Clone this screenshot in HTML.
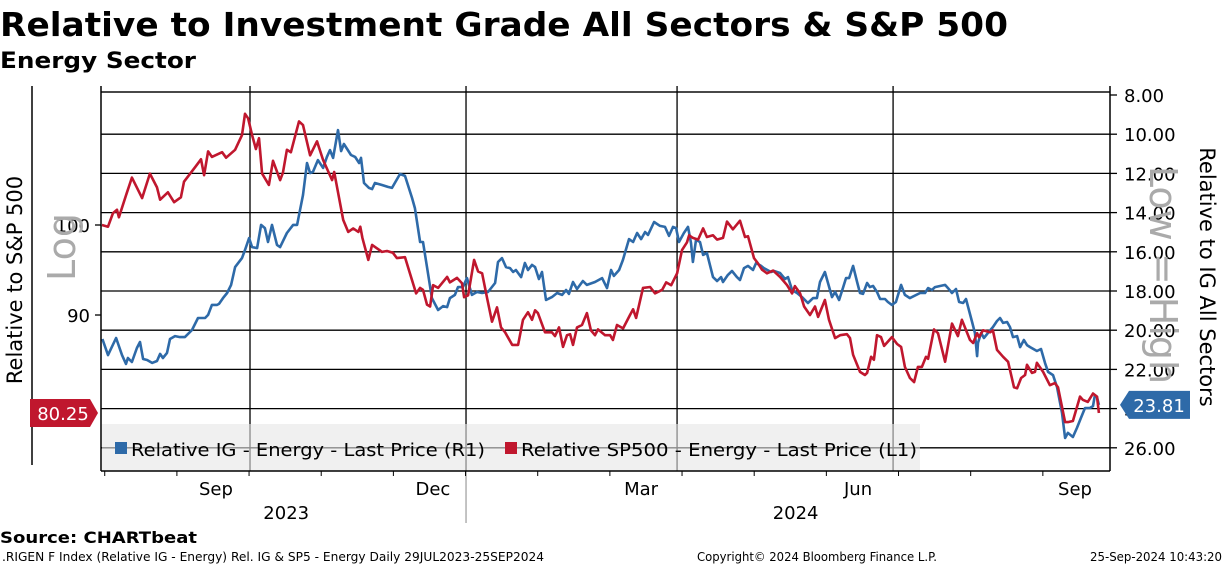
<!DOCTYPE html>
<html><head><meta charset="utf-8"><style>
body{margin:0;background:#fff;}
svg{display:block;font-family:"DejaVu Sans","Liberation Sans",sans-serif;}
</style></head><body>
<svg id="chart" width="1224" height="566" viewBox="0 0 1224 566">
<text x="0" y="36" font-size="33" font-weight="bold" textLength="1008" lengthAdjust="spacingAndGlyphs">Relative to Investment Grade All Sectors &amp; S&amp;P 500</text>
<text x="0" y="68" font-size="22" font-weight="bold" textLength="196" lengthAdjust="spacingAndGlyphs">Energy Sector</text>
<g id="grid"></g>
<g id="series"></g>
<g id="axes"></g>
<text x="0" y="543" font-size="16" font-weight="bold" textLength="197" lengthAdjust="spacingAndGlyphs">Source: CHARTbeat</text>
<text x="2" y="561" font-size="12" textLength="542" lengthAdjust="spacingAndGlyphs">.RIGEN F Index (Relative IG - Energy) Rel. IG &amp; SP5 - Energy  Daily 29JUL2023-25SEP2024</text>
<text x="697" y="561" font-size="12" textLength="240" lengthAdjust="spacingAndGlyphs">Copyright© 2024 Bloomberg Finance L.P.</text>
<text x="1090" y="561" font-size="12" textLength="132" lengthAdjust="spacingAndGlyphs">25-Sep-2024 10:43:20</text>
</svg>
<script>
// x in day index since 29 Jul 2023
const blueDays=[1,3.4,6.8,9.3,11,11.8,13.5,15.6,16.9,18.2,19.9,22,24.1,25.4,26.6,28.3,29.6,31.7,33.8,35.9,38.9,41.4,44.4,45.7,47.3,49.5,50.3,52,53.7,55.4,57.1,60,61.3,63,64.3,66.4,68.1,69.7,71,72.7,74.8,76.1,79,81.6,83.3,85.8,87.5,88.8,90,92.1,94.3,95.9,97.2,98.5,100.6,101.9,103.1,106.1,107.8,109.5,110.3,111.6,113.7,115,116.2,119.2,121.7,123.4,126.8,128.9,131.9,133.1,135.3,136.5,138.2,140.3,142.9,145,146.7,147.9,150,151.3,153.4,155.1,157.2,159.3,161.5,164,167,168.2,169.9,171.6,173.3,174.6,175.8,178,179.6,180.9,182.6,183.9,185.5,186.8,188.5,191,193.2,195.3,197,198.2,199.9,201.6,204.1,205.8,209.2,212.2,214.3,216,217.2,219.4,221,223.6,225.3,227,228.7,230.4,231.6,234.2,236.7,238.8,240.5,242.2,243.5,244.7,246.8,248.5,249.8,250.6,251.9,253.6,254.9,256.5,259.1,260.8,262.5,263.3,265.4,267.1,269.2,270.5,272.2,273.9,276,277.3,279.4,280.6,283.6,284.9,287.4,289.5,290.8,292.5,294.6,296.7,299.2,301.4,303,304.3,306.4,307.7,309.4,310.7,312.4,314,315.3,316.6,318.3,320,321.2,322.5,324.2,325.4,326.7,328.4,329.7,331.8,333,334.7,336.4,338.6,340.2,342.3,346.6,348.7,350,351.6,352.9,357.2,358.4,360.1,361.8,363.1,364.8,366,368.6,369.8,370.7,371.1,372.4,373.6,375.3,377.4,379.1,380.4,381.7,383.4,384.6,385.9,387.6,388.9,390.5,391.8,393.1,396,397.7,399.4,400.7,402.8,404.5,406.6,407.9,409.1,411.2,412.9,414.6,416.3,418.4,419.7,420.5,421.4,422.2];
const blueValues=[20.45,21.27,20.40,21.27,21.72,21.42,21.62,20.91,20.60,21.47,21.52,21.67,21.57,21.21,21.42,21.16,20.45,20.30,20.35,20.35,19.99,19.38,19.38,19.22,18.71,18.71,18.66,18.36,18.10,17.69,16.78,16.32,15.91,15.30,15.76,15.81,14.63,14.79,15.50,14.63,15.65,15.76,15.04,14.63,14.63,13.10,11.47,11.98,11.93,11.32,11.72,11.16,10.81,11.21,9.79,10.86,10.50,11.06,11.16,11.47,11.21,12.49,12.74,12.80,12.49,12.59,12.69,12.74,12.03,12.13,13.26,13.77,15.50,15.50,16.78,18.36,18.97,18.77,18.82,18.36,18.20,17.80,17.80,17.34,18.20,18.05,18.10,18.05,17.59,16.52,16.32,16.78,16.83,17.03,16.93,17.29,16.57,16.93,16.67,16.78,17.39,17.03,18.46,18.31,18.10,18.20,17.95,18.15,17.54,17.90,17.49,17.69,17.54,17.34,17.85,16.93,17.23,16.93,16.42,15.35,15.50,15.04,15.35,14.99,15.14,14.48,14.68,14.73,15.19,14.73,14.79,15.50,15.04,14.73,15.55,16.52,15.40,15.50,16.16,16.06,17.29,17.49,17.29,17.54,17.18,16.98,17.29,17.44,16.83,16.72,16.93,16.57,16.72,16.83,17.03,16.98,17.08,17.39,17.29,17.95,18.10,18.31,18.61,18.36,18.36,17.54,17.03,17.59,18.31,18.05,18.46,17.85,17.34,17.34,16.72,17.54,18.10,18.15,17.59,17.80,17.74,18.05,18.41,18.41,18.56,18.71,18.56,17.69,18.20,18.36,18.10,18.10,17.85,17.95,17.80,17.69,17.85,18.10,17.90,18.56,18.61,18.41,19.58,20.14,21.32,20.65,20.14,20.40,20.14,19.84,19.53,19.38,19.63,19.58,19.84,20.35,20.30,20.86,20.50,20.76,20.86,21.06,20.96,21.67,22.13,22.29,22.90,24.22,25.50,25.24,25.45,24.99,24.48,23.97,23.97,23.87,23.31,23.41,23.81];
const redDays=[0.8,3.4,5.5,7.2,8,11.4,13.5,17.8,21.1,24.1,25.4,28.7,31.3,34.2,35.5,40.2,42.7,44,45.7,47.3,51.6,53.3,57.1,60,61.3,62.6,64.3,65.9,67.2,68.5,71.4,73.1,76.1,77.3,79,80.7,84.1,85.8,88.8,91.7,94.3,98.1,99,102.8,104.9,107,109.2,110,110.9,113.4,115,117.1,119.2,121.3,123.8,125.5,128.9,131,133.6,135.3,136.5,138.2,139.5,140.8,142.9,146.7,147.9,150.9,153,153.9,155.6,158.1,159.8,161.5,163.6,165.7,167.8,169.5,171.2,174.2,176.7,178.8,180.9,182.6,183.9,185.1,188.1,191,192.3,194,195.7,197.4,198.7,199.9,201.6,203.7,205.8,207.5,209.2,210.5,213.5,215.6,216.8,218.5,221.1,224,225.3,226.6,229.5,232.5,234.6,237.6,239.3,241.4,243.9,246,248.1,249,250.6,252.8,254.9,256.5,259.1,260.8,263.3,265,267.5,270.5,272.6,273.9,276.4,278.1,279.8,281.9,284.5,287.4,290.4,292.5,293.7,295.9,297.6,300.1,302.2,303.5,306.4,308.1,310.7,312.8,315.7,317,318.3,321.2,323.3,324.2,325.9,327.1,328.4,330.1,331.4,334.7,336.9,338.6,340.2,342.3,344.1,345.7,347.4,349.1,350,352.5,354.2,357.2,360.1,362.6,364.3,367.7,369,370.7,371.5,373.2,376.2,377.4,379.1,381.7,383.8,386.3,387.6,389.3,391,391.8,393.9,395.2,396,398.6,401.5,403.6,404.9,407.9,409.1,411.2,414.2,415.4,417.5,419.7,421.4,422.2];
const redValues=[100.0,99.8,101.4,101.8,100.9,103.9,105.7,103.2,106.2,104.5,103.0,103.9,102.7,103.3,105.2,107.0,108.0,106.0,109.0,108.3,108.9,108.2,109.2,111.1,113.9,113.3,111.1,109.3,110.7,106.2,104.8,107.8,105.4,106.3,109.2,108.9,112.9,112.4,108.5,110.3,107.9,105.4,106.4,100.6,99.2,99.6,99.2,99.8,98.5,96.0,97.7,97.3,96.9,97.0,96.8,96.2,96.3,94.5,92.3,92.9,92.7,91.1,90.9,93.2,92.9,94.1,93.5,94.0,93.4,91.9,92.1,96.0,94.7,94.5,91.8,89.3,90.8,88.7,88.2,86.9,86.9,89.5,90.3,89.5,90.5,90.2,88.2,88.2,87.8,88.7,86.7,87.9,88.0,86.9,88.7,88.95,90.2,88.4,87.9,88.5,87.9,87.9,87.4,88.95,88.6,90.0,90.6,89.7,92.9,93.0,92.3,92.7,93.5,93.2,94.5,97.1,98.0,98.8,98.5,98.3,99.6,98.6,98.8,98.3,98.5,100.4,99.5,100.5,98.6,98.7,96.2,95.6,94.9,94.5,94.8,94.1,93.2,92.3,93.1,92.3,90.9,90.0,90.9,89.8,91.6,89.5,87.6,87.9,88.0,87.6,85.9,84.2,83.9,84.1,85.7,85.4,87.9,87.7,86.8,87.7,87.0,86.7,84.7,83.6,83.2,84.7,84.7,85.7,85.5,88.5,88.1,85.2,89.1,87.8,89.5,87.4,87.1,88.1,87.7,88.4,88.2,88.4,86.4,85.7,85.2,82.7,82.6,83.6,83.9,84.9,84.1,84.2,85.1,84.2,82.9,83.1,82.7,79.4,79.4,79.5,81.8,81.5,81.3,82.1,81.8,80.25];
const rightTicks=[8,10,12,14,16,18,20,22,24,26];
const leftTicks=[100,90];
const monthLabels=["Sep","Dec","Mar","Jun","Sep"];
const monthLabelDays=[49,140.7,228.7,320.4,412.1];
const quarterLineDays=[63.4,154.7,243.9,335.2];
const yearLabels=["2023","2024"];
const yearLabelDays=[78.7,294];
const lastBlue=blueValues[blueValues.length-1];
const lastRed=redValues[redValues.length-1];

const NS="http://www.w3.org/2000/svg";
const X0=100,XS=2.366,L=101,R=1110,TOP=86,BOT=471;
const xs=d=>X0+d*XS;
const yR=v=>95+(v-8)*19.6;
const yL=v=>225-Math.log10(v/100)*1967;
function mk(tag,attrs,parent,text){const e=document.createElementNS(NS,tag);for(const k in attrs)e.setAttribute(k,attrs[k]);if(text!==undefined)e.textContent=text;parent.appendChild(e);return e;}
const grid=document.getElementById('grid'),series=document.getElementById('series'),axes=document.getElementById('axes');

mk('line',{x1:L,x2:R,y1:92,y2:92,stroke:'#000','stroke-width':1.3},grid);
rightTicks.forEach(v=>{
  const g=mk('line',{x1:L,x2:R,y1:yR(v),y2:yR(v),stroke:'#000','stroke-width':1.3},grid);
  
  
  if(v===8) g.setAttribute('y1',92),g.setAttribute('y2',92);
  mk('line',{x1:R,x2:R+7,y1:yR(v),y2:yR(v),stroke:'#000','stroke-width':1.3},axes);
  const lb=mk('text',{x:1124,y:yR(v)+7,'font-size':18},axes,v.toFixed(2));
  
  
});
quarterLineDays.forEach((d,i)=>{
  const g=mk('line',{x1:xs(d),x2:xs(d),y1:TOP,y2:BOT,stroke:'#000','stroke-width':1.3},grid);
  
  
});
const ys=mk('line',{x1:xs(quarterLineDays[1]),x2:xs(quarterLineDays[1]),y1:BOT,y2:523,stroke:'#888','stroke-width':1},axes);



function path(days,vals,yf,color,name){
  let d='';days.forEach((dd,i)=>{d+=(i?'L':'M')+xs(dd).toFixed(1)+' '+yf(vals[i]).toFixed(1);});
  const p=mk('path',{d:d,fill:'none',stroke:color,'stroke-width':2.6,'stroke-linejoin':'round'},series);
  
  
}

const lg=mk('g',{},axes);


mk('rect',{x:102,y:424,width:818,height:47,fill:'#e6e6e6','fill-opacity':0.6},lg);
mk('rect',{x:115,y:442,width:12,height:12,fill:'#2e6aa8'},lg);
const l1=mk('text',{x:131,y:456,'font-size':18,textLength:354,lengthAdjust:'spacingAndGlyphs'},lg,'Relative IG - Energy - Last Price (R1)');


mk('rect',{x:505,y:442,width:12,height:12,fill:'#c0172e'},lg);
const l2=mk('text',{x:521,y:456,'font-size':18,textLength:396,lengthAdjust:'spacingAndGlyphs'},lg,'Relative SP500 - Energy - Last Price (L1)');



path(blueDays,blueValues,yR,'#2e6aa8','series-relative-ig');
path(redDays,redValues,yL,'#c0172e','series-relative-sp500');

mk('line',{x1:L,x2:L,y1:TOP,y2:BOT,stroke:'#000','stroke-width':1.5},axes);
mk('line',{x1:R,x2:R,y1:TOP,y2:BOT,stroke:'#000','stroke-width':1.5},axes);
mk('line',{x1:L,x2:R,y1:BOT,y2:BOT,stroke:'#000','stroke-width':1.5},axes);
mk('line',{x1:32,x2:32,y1:TOP,y2:465,stroke:'#000','stroke-width':1.5},axes);
for(let d=0;d<=426;d+=30.5){mk('line',{x1:xs(d+2),x2:xs(d+2),y1:BOT,y2:BOT+5,stroke:'#000','stroke-width':1},axes);}
monthLabels.forEach((m,i)=>{
  const t=mk('text',{x:xs(monthLabelDays[i]),y:495,'font-size':18,'text-anchor':'middle'},axes,m);
  
  
});
yearLabels.forEach((m,i)=>{
  const t=mk('text',{x:xs(yearLabelDays[i]),y:519,'font-size':18,'text-anchor':'middle'},axes,m);
  
  
});
leftTicks.forEach(v=>{
  mk('line',{x1:L-6,x2:L,y1:yL(v),y2:yL(v),stroke:'#000','stroke-width':1.3},axes);
  const t=mk('text',{x:90,y:yL(v)+7,'font-size':18,'text-anchor':'end'},axes,String(v));
  
  
});
const lt=mk('text',{transform:'translate(22,280) rotate(-90)','font-size':21,'text-anchor':'middle'},axes,'Relative to S&P 500');


const lo=mk('text',{transform:'translate(75,247) rotate(-90)','font-size':38,fill:'#aaa','text-anchor':'middle'},axes,'Log');


const rt=mk('text',{transform:'translate(1200,277) rotate(90)','font-size':21,'text-anchor':'middle'},axes,'Relative to IG All Sectors');


const rn=mk('text',{transform:'translate(1150,275) rotate(90)','font-size':38,fill:'#aaa','text-anchor':'middle'},axes,'Low = High');


const yr=yL(lastRed);
mk('path',{d:`M30 ${yr-14}H90L98 ${yr}L90 ${yr+14}H30Z`,fill:'#c0172e'},axes);
const rb=mk('text',{x:63,y:yr+7,'font-size':18,fill:'#fff','text-anchor':'middle'},axes,lastRed.toFixed(2));


const yb=yR(lastBlue);
mk('path',{d:`M1120 ${yb}L1129 ${yb-14}H1190V${yb+14}H1129Z`,fill:'#2e6aa8'},axes);
const bb=mk('text',{x:1159,y:yb+7,'font-size':18,fill:'#fff','text-anchor':'middle'},axes,lastBlue.toFixed(2));


</script>
</body></html>
